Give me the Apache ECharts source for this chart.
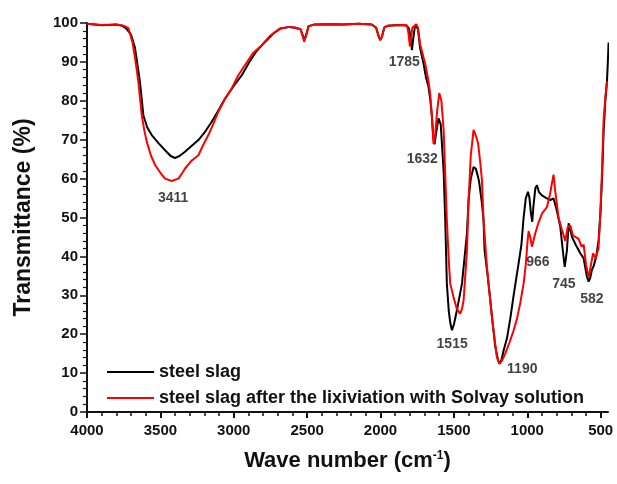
<!DOCTYPE html>
<html>
<head>
<meta charset="utf-8">
<title>FTIR steel slag</title>
<script src="https://cdn.jsdelivr.net/npm/echarts@6/dist/echarts.min.js"></script>
<style>
    body { margin: 0; background: #fff; }
    #chart { width: 617px; height: 484px; }
</style>
</head>
<body>
<div id="chart"></div>
<script>
// 钢渣 (black)
var slagWave = [4000, 3950, 3900, 3850, 3800, 3760, 3730, 3700, 3673, 3655, 3639, 3616, 3590, 3559, 3510, 3468, 3430, 3400, 3370, 3332, 3290, 3241, 3200, 3150, 3100, 3059, 3000, 2945, 2890, 2850, 2786, 2730, 2680, 2620, 2580, 2545, 2530, 2520, 2508, 2490, 2450, 2350, 2250, 2150, 2060, 2030, 2012, 2002, 1990, 1975, 1950, 1900, 1850, 1820, 1805, 1795, 1786, 1777, 1765, 1755, 1745, 1730, 1707, 1690, 1673, 1660, 1650, 1640, 1632, 1620, 1605, 1598, 1590, 1580, 1570, 1559, 1548, 1535, 1525, 1513, 1500, 1479, 1445, 1411, 1400, 1385, 1366, 1350, 1330, 1310, 1298, 1291, 1270, 1252, 1235, 1218, 1200, 1190, 1175, 1160, 1138, 1116, 1093, 1060, 1040, 1025, 1010, 995, 985, 975, 966, 958, 945, 934, 920, 900, 870, 843, 821, 800, 775, 755, 745, 730, 718, 707, 695, 670, 639, 616, 595, 582, 571, 560, 548, 530, 514, 502, 491, 480, 468, 457, 451, 446];
var slagT = [99.8, 99.6, 99.4, 99.5, 99.6, 99.3, 98.5, 97.0, 93.6, 89, 84.8, 76.3, 73.2, 71.2, 69, 67.3, 65.8, 65.3, 65.8, 66.9, 68.3, 69.9, 71.8, 74.6, 77.8, 80.6, 83.8, 86.6, 90.2, 92.5, 95.2, 97.3, 98.6, 99.0, 98.8, 98.4, 96.8, 95.6, 96.8, 99.2, 99.6, 99.7, 99.6, 99.8, 99.6, 98.8, 96.5, 95.6, 96.5, 98.8, 99.3, 99.4, 99.5, 99.3, 98.5, 96, 93, 96, 99.3, 99.6, 98.5, 93.5, 89.6, 86, 83.6, 80, 76, 70.5, 68.8, 72, 75.5, 76, 74, 68, 62, 49.3, 33, 26, 23, 21, 22.5, 26.2, 33, 46, 54.5, 60, 63, 62.5, 59.6, 54, 49.3, 41.6, 35, 28.7, 22.5, 16.7, 13.5, 12.4, 13.5, 16, 19, 24, 30, 38, 43, 50, 55, 56.6, 55, 51, 48.9, 53, 57.5, 58.3, 56.5, 55.7, 55, 54.5, 54.9, 52, 47.6, 40.5, 37.3, 41.5, 48.5, 48.9, 45, 43, 40.8, 39.5, 35, 33.5, 34.5, 36.5, 37.5, 40, 44.2, 51, 59.6, 72, 80, 85, 90, 95];

// Solvay 溶液浸出后 (red)
var leachedWave = [4000, 3900, 3800, 3750, 3718, 3690, 3672, 3650, 3627, 3610, 3593, 3565, 3536, 3500, 3468, 3423, 3377, 3350, 3332, 3290, 3241, 3210, 3173, 3140, 3105, 3060, 3014, 2970, 2923, 2870, 2809, 2750, 2690, 2620, 2580, 2545, 2530, 2520, 2508, 2490, 2450, 2350, 2250, 2150, 2060, 2030, 2012, 2002, 1990, 1975, 1950, 1900, 1850, 1820, 1810, 1800, 1792, 1783, 1770, 1757, 1745, 1730, 1696, 1675, 1662, 1650, 1639, 1628, 1615, 1600, 1593, 1585, 1570, 1560, 1548, 1535, 1525, 1503, 1480, 1457, 1445, 1434, 1411, 1400, 1385, 1366, 1350, 1335, 1320, 1309, 1298, 1275, 1241, 1220, 1207, 1190, 1175, 1150, 1120, 1093, 1070, 1048, 1025, 1010, 998, 991, 980, 968, 957, 945, 925, 900, 866, 845, 832, 821, 810, 787, 765, 741, 725, 707, 690, 673, 650, 630, 616, 600, 582, 570, 552, 535, 525, 515, 502, 491, 480, 468, 457];
var leachedT = [99.8, 99.5, 99.6, 99.3, 98.7, 95, 90.9, 84.9, 76.3, 72.5, 69.5, 66, 63.5, 61.5, 60, 59.4, 60, 61.5, 62.6, 64.5, 66, 68.5, 71.2, 74, 77.2, 80.5, 83.2, 86.5, 89.2, 92.2, 94.3, 96.8, 98.5, 99.0, 98.8, 98.4, 96.6, 95.2, 96.6, 99.2, 99.6, 99.7, 99.6, 99.8, 99.6, 98.8, 96.5, 95.6, 96.5, 98.8, 99.3, 99.4, 99.5, 99.4, 97.5, 94, 96, 98.8, 98.8, 99.7, 98.8, 94.5, 89.6, 85.5, 82, 76, 69, 71, 77, 82, 82.3, 80, 72.5, 62, 49.3, 39, 33, 29.6, 26.5, 25.3, 26.5, 28.7, 41.6, 54.5, 66, 72.5, 71, 69, 64, 59.6, 49.3, 37.3, 24.4, 18, 14.1, 12.4, 13, 15, 18, 21, 24, 28, 33, 38, 44, 46.5, 45, 42.5, 42, 46, 48.5, 51, 52.7, 56, 58.8, 61, 57, 50, 47, 44, 47.5, 48, 45.5, 45, 44.5, 42.5, 43, 38, 34.5, 37, 40.8, 39.5, 39, 42, 51, 62, 75, 81, 85];

// 峰值标注
var peakText = ['3411', '1785', '1632', '1515', '1190', '966', '745', '582'];
var peakWave = [3413, 1838, 1716, 1512, 1034, 928, 750, 560];
var peakT = [55, 90, 65, 17.4, 11, 38.5, 32.9, 29];

// 主刻度 / 次刻度
var xTicks = [500, 1000, 1500, 2000, 2500, 3000, 3500, 4000];
var xMinorTicks = [];
for (var k = 500; k <= 4000; k += 100) {
    if (xTicks.indexOf(k) < 0) xMinorTicks.push(k);
}

function pairs(xs, ys) {
    var out = [];
    for (var i = 0; i < xs.length; i++) out.push([xs[i], ys[i]]);
    return out;
}

var font = '"Liberation Sans", Arial, sans-serif';
var ink = '#111';
var myChart = echarts.init(document.getElementById('chart'), null, {renderer: 'canvas'});

var labelData = [];
for (var i = 0; i < peakText.length; i++) {
    labelData.push({value: [peakWave[i], peakT[i]], name: peakText[i]});
}

myChart.setOption({
    animation: false,
    backgroundColor: '#fff',
    grid: {left: 87, right: 9, top: 23, bottom: 72},
    legend: {
        data: ['steel slag', 'steel slag after the lixiviation with Solvay solution'],
        orient: 'vertical',
        left: 101,
        top: 358,
        itemWidth: 47,
        itemHeight: 14,
        itemGap: 8,
        itemStyle: {opacity: 0},
        textStyle: {fontFamily: font, fontWeight: 'bold', fontSize: 18, color: ink}
    },
    xAxis: [
        {
            type: 'value',
            inverse: true,
            min: 450,
            max: 4000,
            splitNumber: 7,
            name: 'Wave number (cm{sup|-1})',
            nameLocation: 'middle',
            nameGap: 38,
            nameTextStyle: {
                fontFamily: font, fontWeight: 'bold', fontSize: 22, color: ink,
                rich: {sup: {fontFamily: font, fontWeight: 'bold', fontSize: 12, color: ink, verticalAlign: 'top', padding: [0, 0, 10, 0]}}
            },
            axisLine: {lineStyle: {color: ink, width: 2}},
            axisTick: {show: true, length: 6, lineStyle: {color: ink, width: 2}, customValues: xTicks},
            axisLabel: {
                fontFamily: font, fontWeight: 'bold', fontSize: 15, color: ink, margin: 11,
                customValues: xTicks,
                formatter: function (v) { return String(v); }
            },
            splitLine: {show: false}
        },
        {
            // 次刻度用的重叠轴
            type: 'value',
            inverse: true,
            position: 'bottom',
            min: 450,
            max: 4000,
            axisLine: {show: false},
            axisTick: {show: true, length: 4, lineStyle: {color: ink, width: 1.5}, customValues: xMinorTicks},
            axisLabel: {show: false},
            splitLine: {show: false}
        }
    ],
    yAxis: {
        type: 'value',
        min: 0,
        max: 100,
        interval: 10,
        name: 'Transmittance (%)',
        nameLocation: 'middle',
        nameGap: 52,
        nameTextStyle: {fontFamily: font, fontWeight: 'bold', fontSize: 23, color: ink},
        axisLine: {show: true, lineStyle: {color: ink, width: 2}},
        axisTick: {show: true, length: 7, lineStyle: {color: ink, width: 1.5}},
        minorTick: {show: true, splitNumber: 5, length: 4, lineStyle: {color: ink, width: 1.2}},
        axisLabel: {fontFamily: font, fontWeight: 'bold', fontSize: 15, color: ink, margin: 9},
        splitLine: {show: false}
    },
    series: [
        {
            name: 'steel slag',
            type: 'line',
            data: pairs(slagWave, slagT),
            showSymbol: false,
            symbol: 'none',
            color: '#000',
            lineStyle: {color: '#000', width: 2},
            silent: true,
            z: 2
        },
        {
            name: 'steel slag after the lixiviation with Solvay solution',
            type: 'line',
            data: pairs(leachedWave, leachedT),
            showSymbol: false,
            symbol: 'none',
            color: '#ff0000',
            lineStyle: {color: '#ff0000', width: 2},
            silent: true,
            z: 3
        },
        {
            // 峰位数字
            name: 'peaks',
            type: 'scatter',
            data: labelData,
            symbolSize: 1,
            itemStyle: {color: 'rgba(0,0,0,0)'},
            silent: true,
            z: 4,
            label: {
                show: true,
                position: 'inside',
                formatter: '{b}',
                fontFamily: font,
                fontWeight: 'bold',
                fontSize: 14,
                color: ink
            }
        }
    ]
});
</script>
</body>
</html>
